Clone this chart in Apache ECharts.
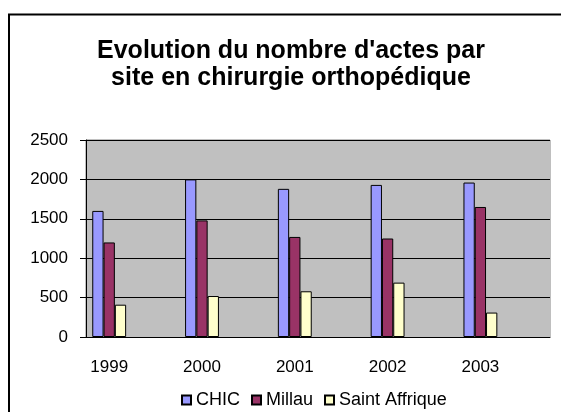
<!DOCTYPE html>
<html>
<head>
<meta charset="utf-8">
<script src="https://cdn.jsdelivr.net/npm/echarts@6/dist/echarts.min.js"></script>
<style>html,body{margin:0;padding:0;background:#fff;}#c{width:561px;height:412px;}</style>
</head>
<body>
<div id="c"></div>
<script>
const years = ['1999', '2000', '2001', '2002', '2003'];
const chic = [1600, 2000, 1880, 1930, 1960];
const millau = [1200, 1480, 1270, 1250, 1650];
const saintAffrique = [410, 520, 580, 690, 310];
const yTickValues = [0, 500, 1000, 1500, 2000, 2500];

// Each year is followed by an empty category slot (as in the original chart)
const categories = [];
years.forEach(y => { categories.push(y); categories.push(''); });
function spaced(arr) {
  const out = [];
  arr.forEach(v => { out.push(v); out.push('-'); });
  return out;
}

const chart = echarts.init(document.getElementById('c'), null, {renderer: 'canvas'});
const font = '"Liberation Sans", Arial, sans-serif';
chart.setOption({
  animation: false,
  backgroundColor: '#ffffff',
  graphic: [
    {type: 'rect', shape: {x: 9, y: 14.5, width: 700, height: 500},
     style: {fill: 'none', stroke: '#000', lineWidth: 2}, z: 100},
    {type: 'rect', shape: {x: 86, y: 140, width: 464, height: 197},
     style: {fill: 'none', stroke: '#808080', lineWidth: 1}, z: -1}
  ],
  title: {
    text: "Evolution du nombre d'actes par\nsite en chirurgie orthopédique",
    left: 286, top: 33, textAlign: 'center',
    textStyle: {fontFamily: font, fontWeight: 'bold', fontSize: 25, lineHeight: 27, color: '#000'}
  },
  legend: {
    left: 176, top: 386,
    itemWidth: 9, itemHeight: 9, itemGap: 11,
    icon: 'rect',
    textStyle: {fontFamily: font, fontSize: 18, color: '#000'},
    data: ['CHIC', 'Millau', 'Saint Affrique']
  },
  grid: {left: 86, top: 140, width: 464, height: 197, show: true, backgroundColor: '#C0C0C0', borderWidth: 0},
  xAxis: {
    type: 'category', data: categories, boundaryGap: true,
    axisLine: {lineStyle: {color: '#000', width: 1}},
    axisTick: {interval: 0, length: 6, lineStyle: {color: '#000'}},
    axisLabel: {interval: 0, margin: 22, fontFamily: font, fontSize: 17, color: '#000'},
    splitLine: {show: false}
  },
  yAxis: {
    type: 'value', min: yTickValues[0], max: yTickValues[yTickValues.length - 1], interval: 500,
    axisLine: {show: true, lineStyle: {color: '#000', width: 1}},
    axisTick: {show: true, length: 6, lineStyle: {color: '#000'}},
    axisLabel: {margin: 18, fontFamily: font, fontSize: 17, color: '#000', padding: [6, 0, 0, 0],
                formatter: v => String(v)},
    splitLine: {show: true, lineStyle: {color: '#000', width: 1}}
  },
  series: [
    {name: 'CHIC', type: 'bar', data: spaced(chic), barGap: '0%', barCategoryGap: '27%',
     itemStyle: {color: '#9999FF', borderColor: '#000', borderWidth: 1}},
    {name: 'Millau', type: 'bar', data: spaced(millau),
     itemStyle: {color: '#993366', borderColor: '#000', borderWidth: 1}},
    {name: 'Saint Affrique', type: 'bar', data: spaced(saintAffrique),
     itemStyle: {color: '#FFFFCC', borderColor: '#000', borderWidth: 1}}
  ]
});
</script>
</body>
</html>
